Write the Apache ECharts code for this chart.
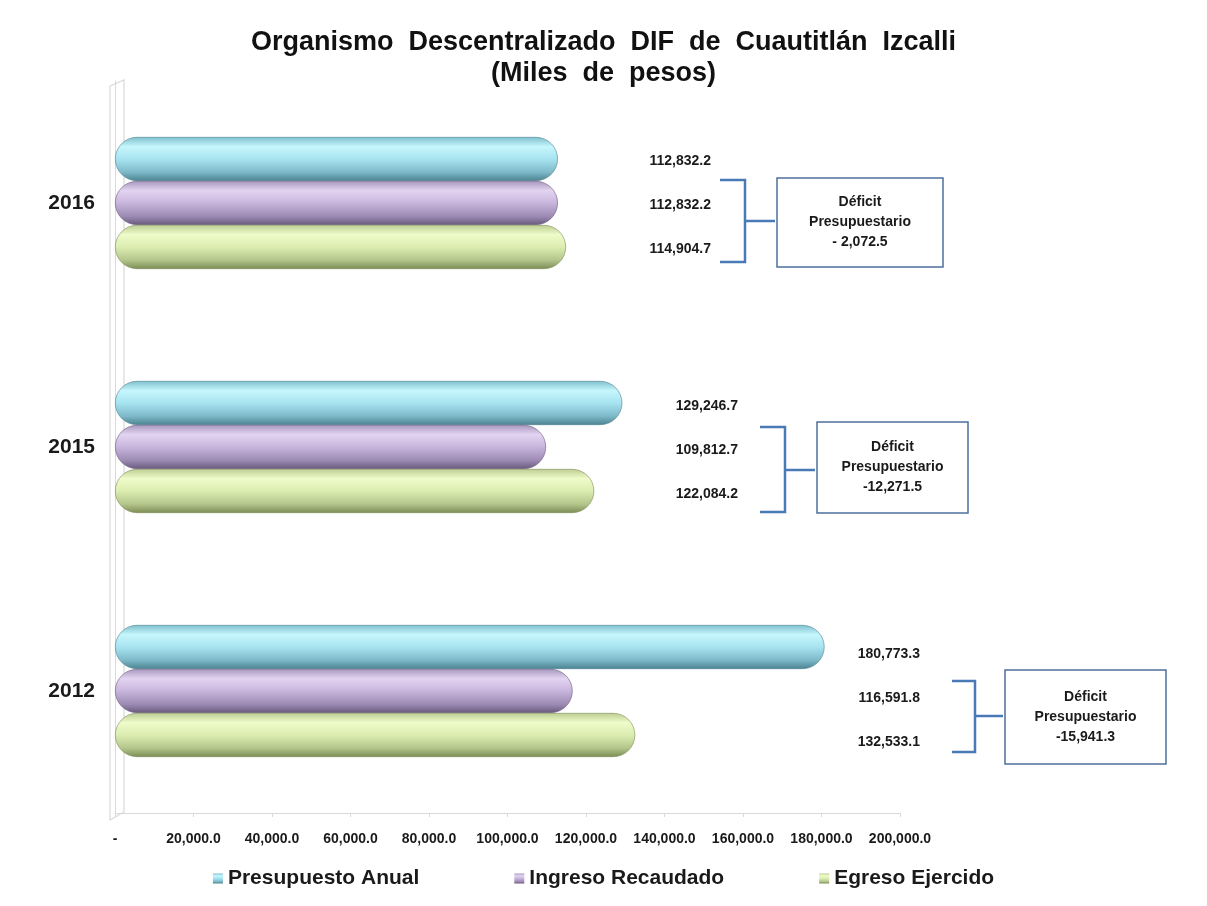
<!DOCTYPE html>
<html>
<head>
<meta charset="utf-8">
<title>DIF Cuautitlán Izcalli</title>
<script src="https://cdn.jsdelivr.net/npm/echarts@6/dist/echarts.min.js"></script>
<style>
	html, body { margin: 0; padding: 0; background: #fff; }
	#chart { width: 1207px; height: 906px; }
</style>
</head>
<body>
<div id="chart"></div>
<script>
	// datos (miles de pesos)
	var years = ['2012', '2015', '2016'];
	var presupuesto = [180773.3, 129246.7, 112832.2];
	var ingreso = [116591.8, 109812.7, 112832.2];
	var egreso = [132533.1, 122084.2, 114904.7];
	var seriesNames = ['Presupuesto Anual', 'Ingreso Recaudado', 'Egreso Ejercido'];
	var xMax = 200000;
	var xStep = 20000;

	var FONT = '"Liberation Sans", Arial, sans-serif';
	var GRID_LEFT = 115;

	// donde quedan las etiquetas de valor (borde derecho en px) por año
	var labelRight = [920, 738, 711];
	var labelDy = [7, 3, 2];

	// recuadros de deficit [x corchete, x vertical, y arriba, y abajo, y tallo, caja x, y, w, h]
	var callouts = [
		[952, 975, 681, 752, 716, 1005, 670, 161, 94],
		[760, 785, 427, 512, 470, 817, 422, 151, 91],
		[720, 745, 180, 262, 221, 777, 178, 166, 89]
	];

	function fmt(v) {
		return v.toLocaleString('en-US', { minimumFractionDigits: 1, maximumFractionDigits: 1 });
	}

	function cyl(stops) {
		return new echarts.graphic.LinearGradient(0, 0, 0, 1, [
			{ offset: 0, color: stops[0] },
			{ offset: 0.22, color: stops[1] },
			{ offset: 0.5, color: stops[2] },
			{ offset: 0.8, color: stops[3] },
			{ offset: 1, color: stops[4] }
		]);
	}

	var palettes = [
		['#7ec0ce', '#c6f6fd', '#a7e4f0', '#7db9c8', '#4b8290'],
		['#a897bf', '#e3d4f1', '#c8b5dc', '#9d8bb4', '#68597d'],
		['#bccd92', '#effbca', '#dbedb0', '#b3c58a', '#7b8c56']
	];

	function createSerie(name, data, idx) {
		return {
			name: name,
			type: 'bar',
			barWidth: 44,
			barGap: '0%',
			itemStyle: {
				color: cyl(palettes[idx]),
				borderRadius: 22,
				borderColor: palettes[idx][4],
				borderWidth: 0.6
			},
			label: {
				show: true,
				color: '#1a1a1a',
				fontFamily: FONT,
				fontWeight: 'bold',
				fontSize: 14,
				align: 'right',
				verticalAlign: 'middle',
				formatter: function(p) { return fmt(p.value); }
			},
			data: data.map(function(v, j) {
				return {
					value: v,
					label: { position: [labelRight[j] - GRID_LEFT, 22 + labelDy[j]] }
				};
			})
		};
	}

	var graphics = [
		// pared del fondo (efecto 3D)
		{
			type: 'polygon',
			shape: { points: [[110, 86], [124, 80], [124, 812], [110, 820]] },
			style: { fill: 'none', stroke: '#d9d9d9', lineWidth: 1.2 },
			z: 1
		}
	];

	callouts.forEach(function(c, j) {
		var d = ingreso[j] - egreso[j];
		var dTxt = (d < 0 ? (Math.abs(d) < 10000 ? '- ' : '-') : '') + fmt(Math.abs(d));
		graphics.push({
			type: 'polyline',
			shape: { points: [[c[0], c[2]], [c[1], c[2]], [c[1], c[3]], [c[0], c[3]]] },
			style: { stroke: '#4a7ab5', lineWidth: 2.5, fill: 'none' }
		});
		graphics.push({
			type: 'line',
			shape: { x1: c[1], y1: c[4], x2: c[5] - 2, y2: c[4] },
			style: { stroke: '#4a7ab5', lineWidth: 2.5 }
		});
		graphics.push({
			type: 'rect',
			shape: { x: c[5], y: c[6], width: c[7], height: c[8] },
			style: { fill: '#fff', stroke: '#4f6f9a', lineWidth: 1.5 }
		});
		graphics.push({
			type: 'text',
			x: c[5] + c[7] / 2,
			y: c[6] + c[8] / 2,
			style: {
				text: 'Déficit\nPresupuestario\n' + dTxt,
				align: 'center',
				verticalAlign: 'middle',
				fill: '#1a1a1a',
				font: 'bold 14px ' + FONT,
				lineHeight: 20
			}
		});
	});

	var chart = echarts.init(document.getElementById('chart'));
	chart.setOption({
		animation: false,
		backgroundColor: '#fff',
		title: {
			text: 'Organismo  Descentralizado  DIF  de  Cuautitlán  Izcalli\n(Miles  de  pesos)',
			left: 'center',
			top: 22,
			textStyle: {
				fontFamily: FONT,
				fontWeight: 'bold',
				fontSize: 27,
				lineHeight: 31,
				align: 'center',
				color: '#111'
			}
		},
		legend: {
			bottom: 12,
			left: 'center',
			icon: 'rect',
			itemWidth: 10,
			itemHeight: 10,
			itemGap: 95,
			itemStyle: { borderWidth: 0 },
			textStyle: { fontFamily: FONT, fontWeight: 'bold', fontSize: 21, color: '#1a1a1a' },
			data: seriesNames
		},
		grid: {
			left: GRID_LEFT,
			right: 1207 - 900,
			top: 81,
			bottom: 93,
			containLabel: false
		},
		xAxis: {
			type: 'value',
			min: 0,
			max: xMax,
			interval: xStep,
			splitLine: { show: false },
			axisLine: { show: true, lineStyle: { color: '#d9d9d9' } },
			axisTick: { show: true, length: 4, lineStyle: { color: '#d9d9d9' } },
			axisLabel: {
				margin: 19,
				fontFamily: FONT,
				fontWeight: 'bold',
				fontSize: 14,
				color: '#1a1a1a',
				formatter: function(v) { return v === 0 ? '-' : fmt(v); }
			}
		},
		yAxis: {
			type: 'category',
			data: years,
			axisLine: { show: true, lineStyle: { color: '#d9d9d9' } },
			axisTick: { show: false },
			axisLabel: {
				margin: 20,
				fontFamily: FONT,
				fontWeight: 'bold',
				fontSize: 21,
				color: '#1a1a1a'
			}
		},
		series: [
			createSerie(seriesNames[0], presupuesto, 0),
			createSerie(seriesNames[1], ingreso, 1),
			createSerie(seriesNames[2], egreso, 2)
		],
		graphic: graphics
	});
</script>
</body>
</html>
